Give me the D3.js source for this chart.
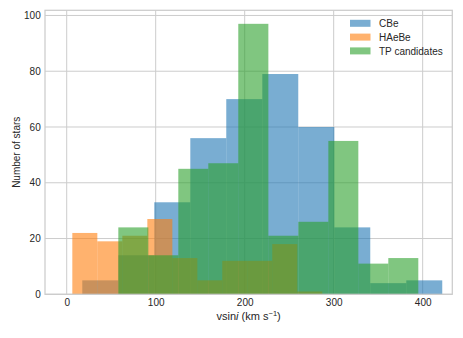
<!DOCTYPE html>
<html>
<head>
<meta charset="utf-8">
<script src="https://cdn.jsdelivr.net/npm/d3@7"></script>
<style>
  body { margin: 0; background: #fff; }
  svg { display: block; font-family: "Liberation Sans", Arial, sans-serif; }
</style>
</head>
<body>
<svg id="chart" width="463" height="338"></svg>
<script>
// bin edges (km/s) and counts
var cbeEdges = [17.5, 58.0, 98.4, 138.9, 179.3, 219.8, 260.2, 300.7, 341.1, 381.6, 422.0]
var cbeCounts = [5, 14, 33, 56, 70, 79, 60, 24, 4, 5]

var haebeEdges = [6.3, 34.4, 62.5, 90.6, 118.7, 146.8, 174.8, 202.9, 231.0, 259.1, 287.2]
var haebeCounts = [22, 19, 21, 27, 13, 5, 12, 12, 18, 1]

var tpEdges = [58.0, 91.7, 125.4, 159.1, 192.8, 226.6, 260.3, 294.0, 327.7, 361.4, 395.1]
var tpCounts = [24, 14, 45, 47, 97, 21, 26, 55, 11, 13]

var seriesNames = ["CBe", "HAeBe", "TP candidates"]
var seriesColors = ["#1f77b4", "#ff7f0e", "#2ca02c"]

var xTicks = [0, 100, 200, 300, 400]
var yTicks = [0, 20, 40, 60, 80, 100]

var svg = d3.select("#chart")
var plotL = 45, plotR = 452.3, plotT = 10.3, plotB = 294.3
var textColor = "#262626"
var gridColor = "#cccccc"

var x = d3.scaleLinear().domain([-24.4, 433.3]).range([plotL, plotR])
var y = d3.scaleLinear().domain([0, 101.85]).range([plotB, plotT])

// grid first, bars go on top
var grid = svg.append("g")
grid.selectAll(".gx")
  .data(xTicks)
  .enter()
  .append("line")
  .attr("x1", d => x(d))
  .attr("x2", d => x(d))
  .attr("y1", plotT)
  .attr("y2", plotB)
  .attr("stroke", gridColor)
  .attr("stroke-width", 1)
grid.selectAll(".gy")
  .data(yTicks)
  .enter()
  .append("line")
  .attr("x1", plotL)
  .attr("x2", plotR)
  .attr("y1", d => y(d))
  .attr("y2", d => y(d))
  .attr("stroke", gridColor)
  .attr("stroke-width", 1)

function binsOf(edges, counts) {
  return counts.map(function (c, i) {
    return { x0: edges[i], x1: edges[i + 1], n: c }
  })
}

var series = [
  binsOf(cbeEdges, cbeCounts),
  binsOf(haebeEdges, haebeCounts),
  binsOf(tpEdges, tpCounts)
]

series.forEach(function (bins, k) {
  svg.append("g")
    .selectAll("rect")
    .data(bins)
    .enter()
    .append("rect")
    .attr("x", d => x(d.x0))
    .attr("width", d => x(d.x1) - x(d.x0))
    .attr("y", d => y(d.n))
    .attr("height", d => y(0) - y(d.n))
    .attr("fill", seriesColors[k])
    .attr("fill-opacity", 0.6)
})

// frame
svg.append("rect")
  .attr("x", plotL)
  .attr("y", plotT)
  .attr("width", plotR - plotL)
  .attr("height", plotB - plotT)
  .attr("fill", "none")
  .attr("stroke", gridColor)
  .attr("stroke-width", 1.25)

var xAxis = svg.append("g")
  .attr("transform", "translate(0," + plotB + ")")
  .call(d3.axisBottom(x).tickValues(xTicks).tickSize(0).tickPadding(5))
var yAxis = svg.append("g")
  .attr("transform", "translate(" + plotL + ",0)")
  .call(d3.axisLeft(y).tickValues(yTicks).tickSize(0).tickPadding(4.3))

;[xAxis, yAxis].forEach(function (g) {
  g.select(".domain").remove()
  g.selectAll("text")
    .attr("fill", textColor)
    .style("font-size", "10px")
    .style("font-family", "'Liberation Sans', Arial, sans-serif")
})

// axis labels
var xl = svg.append("text")
  .attr("x", (plotL + plotR) / 2)
  .attr("y", 320)
  .attr("text-anchor", "middle")
  .attr("fill", textColor)
  .style("font-size", "11px")
xl.append("tspan").text("vsin")
xl.append("tspan").style("font-style", "italic").text("i")
xl.append("tspan").text(" (km s")
xl.append("tspan").attr("dy", -4.5).style("font-size", "7.5px").text("\u22121")
xl.append("tspan").attr("dy", 4.5).text(")")

svg.append("text")
  .attr("transform", "translate(19.5," + (plotT + plotB) / 2 + ") rotate(-90)")
  .attr("text-anchor", "middle")
  .attr("fill", textColor)
  .style("font-size", "10px")
  .text("Number of stars")

// legend
var legend = svg.append("g")
  .attr("transform", "translate(350,23.3)")
var items = legend.selectAll("g")
  .data(seriesNames)
  .enter()
  .append("g")
  .attr("transform", (d, i) => "translate(0," + i * 13.8 + ")")
items.append("rect")
  .attr("x", 0)
  .attr("y", -3.5)
  .attr("width", 20.5)
  .attr("height", 7)
  .attr("fill", (d, i) => seriesColors[i])
  .attr("fill-opacity", 0.6)
items.append("text")
  .attr("x", 29)
  .attr("y", 3.6)
  .attr("fill", textColor)
  .style("font-size", "10px")
  .text(d => d)
</script>
</body>
</html>
